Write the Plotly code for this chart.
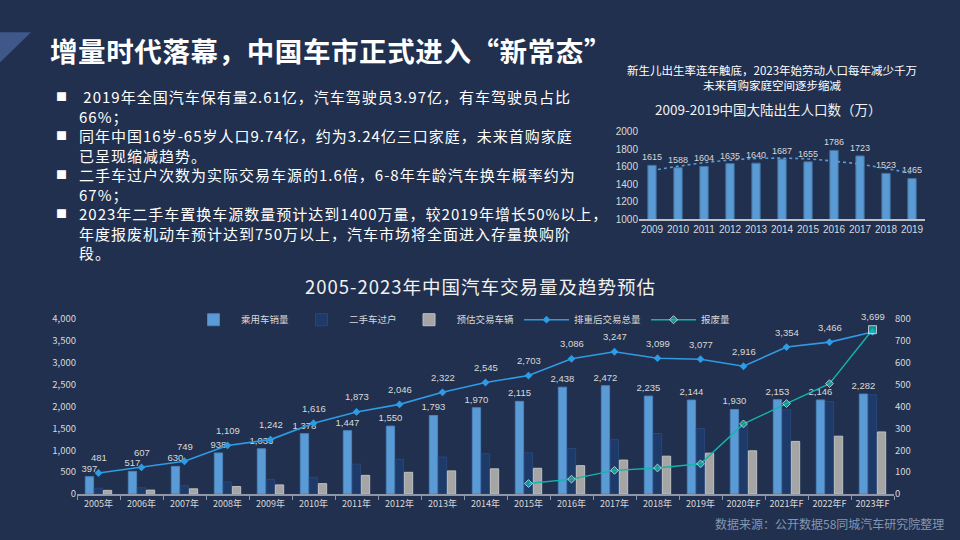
import plotly.graph_objects as go

# ---------------- data ----------------
years = ["2005年", "2006年", "2007年", "2008年", "2009年", "2010年", "2011年", "2012年",
         "2013年", "2014年", "2015年", "2016年", "2017年", "2018年", "2019年",
         "2020年F", "2021年F", "2022年F", "2023年F"]
passenger_sales = [397, 517, 630, 938, 1033, 1378, 1447, 1550, 1793, 1970, 2115, 2438,
                   2472, 2235, 2144, 1930, 2153, 2146, 2282]
used_transfers = [134, 144, 190, 274, 334, 381, 682, 794, 846, 920, 941, 1037,
                  1240, 1382, 1493, 1578, 1922, 2112, 2267]
est_trade = [84, 90, 119, 171, 209, 238, 426, 496, 529, 575, 588, 648,
             775, 864, 933, 986, 1201, 1320, 1417]
dedup_total = [481, 607, 749, 1109, 1242, 1616, 1873, 2046, 2322, 2545, 2703, 3086,
               3247, 3099, 3077, 2916, 3354, 3466, 3699]
scrap_years = ["2015年", "2016年", "2017年", "2018年", "2019年",
               "2020年F", "2021年F", "2022年F", "2023年F"]
scrap = [48, 68, 108, 119, 138, 320, 413, 504, 750]

birth_years = ["2009", "2010", "2011", "2012", "2013", "2014", "2015", "2016", "2017", "2018", "2019"]
births = [1615, 1588, 1604, 1635, 1640, 1687, 1655, 1786, 1723, 1523, 1465]
birth_trend = [1556, 1604, 1645, 1675, 1693, 1697, 1688, 1662, 1628, 1578, 1527]

title_text = "增量时代落幕，中国车市正式进入“新常态”"
bullet_lines = [
    ("■", "\u00a02019年全国汽车保有量2.61亿，汽车驾驶员3.97亿，有车驾驶员占比"),
    ("", "66%；"),
    ("■", "同年中国16岁-65岁人口9.74亿，约为3.24亿三口家庭，未来首购家庭"),
    ("", "已呈现缩减趋势。"),
    ("■", "二手车过户次数为实际交易车源的1.6倍，6-8年车龄汽车换车概率约为"),
    ("", "67%；"),
    ("■", "2023年二手车置换车源数量预计达到1400万量，较2019年增长50%以上，"),
    ("", "年度报废机动车预计达到750万以上，汽车市场将全面进入存量换购阶"),
    ("", "段。"),
]
small_sub = ["新生儿出生率连年触底，2023年始劳动人口每年减少千万", "未来首购家庭空间逐步缩减"]
small_title = "2009-2019中国大陆出生人口数（万）"
main_title = "2005-2023年中国汽车交易量及趋势预估"
source_text = "数据来源：公开数据58同城汽车研究院整理"

# ---------------- style ----------------
W, H = 960, 540
BG = "#21304E"
LABEL = "#D9D9D9"
FONT = "Noto Sans CJK SC"
NUMFONT = "Liberation Sans, Noto Sans CJK SC"


def px(x):
    return x / W


def py(y):
    return 1 - y / H


n_years = len(years)
scrap_symbols = ["diamond"] * (len(scrap) - 1) + ["square"]
scrap_sizes = [6] * (len(scrap) - 1) + [8]

fig = go.Figure()

fig.add_trace(go.Bar(
    name="乘用车销量", x=years, y=passenger_sales,
    marker=dict(color="#5B9BD5", line=dict(color="#4A84BD", width=1)),
    text=[f"{v:,}" for v in passenger_sales], textposition="outside",
    textfont=dict(color=LABEL, size=9.5, family=NUMFONT), constraintext="none",
    cliponaxis=False, xaxis="x", yaxis="y"))
fig.add_trace(go.Bar(
    name="二手车过户", x=years, y=used_transfers,
    marker=dict(color="#1E3A68", line=dict(color="#27477A", width=1)),
    xaxis="x", yaxis="y"))
fig.add_trace(go.Bar(
    name="预估交易车辆", x=years, y=est_trade,
    marker=dict(color="#A5A5A5", line=dict(color="#C0C0C0", width=1)),
    xaxis="x", yaxis="y"))
fig.add_trace(go.Scatter(
    name="排重后交易总量", x=years, y=dedup_total, mode="lines+markers",
    line=dict(color="#2E9BE3", width=1.6),
    marker=dict(symbol="diamond", size=6, color="#2E9BE3"),
    cliponaxis=False, xaxis="x", yaxis="y"))
fig.add_trace(go.Scatter(
    name="报废量", x=scrap_years, y=scrap, mode="lines+markers",
    line=dict(color="#12B5AA", width=1.4),
    marker=dict(symbol=scrap_symbols, size=scrap_sizes, color="#12B5AA"),
    cliponaxis=False, xaxis="x", yaxis="y2"))

# small chart
fig.add_trace(go.Bar(
    x=birth_years, y=births, width=0.32, showlegend=False,
    marker=dict(color="#5B9BD5", line=dict(color="#41719C", width=1)),
    text=[str(v) for v in births], textposition="outside",
    textfont=dict(color=LABEL, size=9, family=NUMFONT), constraintext="none",
    cliponaxis=False, xaxis="x2", yaxis="y3"))
fig.add_trace(go.Scatter(
    x=birth_years, y=birth_trend, mode="lines", showlegend=False,
    line=dict(color="#5B9BD5", width=1.6, dash="dot", shape="spline"),
    xaxis="x2", yaxis="y3"))

axis_font = dict(color=LABEL, size=9.5, family=FONT)

fig.update_layout(
    width=W, height=H, margin=dict(l=0, r=0, t=0, b=0),
    paper_bgcolor=BG, plot_bgcolor="rgba(0,0,0,0)",
    font=dict(family=FONT, color=LABEL),
    barmode="group", bargap=0.37, bargroupgap=0.08,
    showlegend=True,
    legend=dict(orientation="h", x=px(186), xanchor="left", y=py(320), yanchor="middle",
                font=dict(size=9.5, color=LABEL, family=FONT), itemwidth=45,
                bgcolor="rgba(0,0,0,0)", traceorder="normal"),
    xaxis=dict(domain=[px(77), px(894)], anchor="y", type="category",
               range=[-0.5, n_years - 0.5], autorange=False,
               showline=True, linecolor="#8D97A8", linewidth=1.5,
               ticks="outside", tickson="boundaries", ticklen=4, tickcolor="#8D97A8",
               tickangle=0, tickfont=dict(color=LABEL, size=9, family=FONT), showgrid=False),
    yaxis=dict(domain=[py(499), py(319)], range=[0, 4000], dtick=500, tickformat=",",
               showgrid=False, zeroline=False, tickfont=axis_font, anchor="x"),
    yaxis2=dict(overlaying="y", side="right", anchor="x", range=[0, 800], dtick=100,
                showgrid=False, zeroline=False, tickfont=axis_font),
    xaxis2=dict(domain=[px(639), px(925)], anchor="y3", type="category",
                range=[-0.5, len(birth_years) - 0.5], autorange=False,
                showline=True, linecolor="#BFBFBF", linewidth=1.5, ticks="", tickangle=0,
                tickfont=dict(color=LABEL, size=10, family=NUMFONT), showgrid=False),
    yaxis3=dict(domain=[py(216.7), py(127)], anchor="x2", range=[1000, 2000], dtick=200,
                showgrid=False, zeroline=False,
                tickfont=dict(color=LABEL, size=10, family=NUMFONT)),
)

# decorative triangle
fig.add_shape(type="path", xref="paper", yref="paper",
              path=f"M 0 {py(25)} L {px(31)} {py(25)} L 0 {py(56)} Z",
              fillcolor="#3F5789", line=dict(width=0))

ann = []
# value labels of the total line, placed on the data through the axes
for yr, v in zip(years, dedup_total):
    ann.append(dict(text=f"{v:,}", x=yr, y=v, xref="x", yref="y", yshift=15,
                    xanchor="center", yanchor="middle", showarrow=False,
                    font=dict(size=9.5, color=LABEL, family=NUMFONT)))

ann.append(dict(text=f"<b><span style='letter-spacing:0.6px'>{title_text}</span></b>",
                x=px(48), y=py(43), xanchor="left", yanchor="middle",
                font=dict(size=27.5, color="#FFFFFF", family=FONT)))

# bullet block: one text block so lines share a single line spacing
bullet_col = "<br>".join(
    ("<span style='font-size:11px'>" + b + "</span>") if b else "\u00a0" for b, _ in bullet_lines)
text_col = "<br>".join(
    "<span style='letter-spacing:1px'>" + t + "</span>" for _, t in bullet_lines)
ann.append(dict(text=bullet_col, x=px(61), y=py(171), xanchor="center", yanchor="middle",
                align="center", font=dict(size=15, color="#FFFFFF", family=FONT)))
ann.append(dict(text=text_col, x=px(77), y=py(171), xanchor="left", yanchor="middle",
                align="left", font=dict(size=15, color="#FFFFFF", family=FONT)))

ann.append(dict(text="<br>".join(small_sub), x=px(772), y=py(71.5), xanchor="center",
                yanchor="middle", align="center",
                font=dict(size=11.5, color="#FFFFFF", family=FONT)))
ann.append(dict(text=small_title, x=px(768), y=py(104), xanchor="center", yanchor="middle",
                font=dict(size=13.5, color="#F2F2F2", family=FONT)))
ann.append(dict(text=f"<span style='letter-spacing:1px'>{main_title}</span>",
                x=px(480), y=py(285), xanchor="center", yanchor="middle",
                font=dict(size=18.5, color="#F2F2F2", family=FONT)))
ann.append(dict(text=source_text, x=px(946), y=py(529), xanchor="right", yanchor="middle",
                font=dict(size=12, color="#8496B0", family=FONT)))
for a in ann:
    a.setdefault("xref", "paper")
    a.setdefault("yref", "paper")
    a["showarrow"] = False
fig.update_layout(annotations=ann)

fig.write_html("out.html", config={"displayModeBar": False},
               post_script="document.body.style.margin='0px';document.body.style.background='" + BG + "';")
